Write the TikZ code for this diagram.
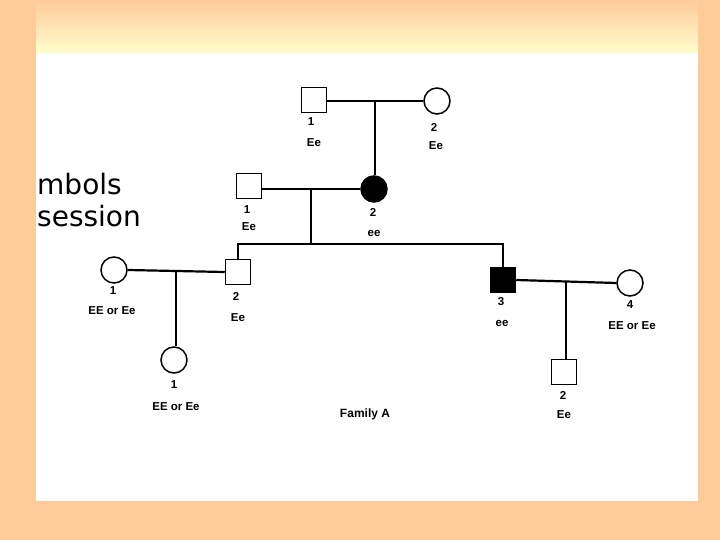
\documentclass[tikz,border=0pt]{standalone}
\usepackage{fontspec}
\setmainfont{Liberation Sans}
\newfontfamily\handfont{DejaVu Sans}
\definecolor{peach}{RGB}{255,204,153}
\definecolor{glow}{RGB}{255,253,204}
\begin{document}
\begin{tikzpicture}[x=1pt,y=-1pt,
        male/.style={draw,line width=1.5pt,rectangle,minimum size=25pt,inner sep=0pt},
        female/.style={draw,line width=1.5pt,circle,minimum size=26pt,inner sep=0pt},
        affected/.style={fill=black},
        gene/.style={font=\bfseries\fontsize{11.5}{13}\selectfont,inner sep=0pt},
        mate/.style={line width=2.2pt},
        kin/.style={line width=1.7pt}]
        % frame
        \fill[peach] (0,0) rectangle (720,540);
        \shade[top color=peach,bottom color=glow] (36,0) rectangle (698,53);
        \fill[white] (36,53) rectangle (698,501);
        \useasboundingbox (0,0) rectangle (720,540);
        % handwritten note, cut at the left
        \node[font=\handfont\fontsize{28}{30}\selectfont,anchor=base west,inner sep=0pt] (note1) at (37,195) {mbols};
        \node[font=\handfont\fontsize{28}{30}\selectfont,anchor=base west,inner sep=0pt] (note2) at (37,226) {session};
        % generation I
        \node[male] (gi1) at (314,100) {};
        \node[female] (gi2) at (437,101) {};
        % generation II
        \node[male] (gii1) at (249,186) {};
        \node[female,affected] (gii2) at (374,189) {};
        % generation III
        \node[female] (giii1) at (114,270) {};
        \node[male] (giii2) at (238,272) {};
        \node[male,affected] (giii3) at (503,280) {};
        \node[female] (giii4) at (630,283) {};
        % generation IV
        \node[female] (giv1) at (174,360) {};
        \node[male] (giv2) at (564,372) {};
        \coordinate (sib) at (311,244);
        % matings and descent
        \draw[mate] (gi1.east |- gi2) -- coordinate (mi) (gi2.west);
        \draw[kin] (mi) -- (mi |- gii2.north);
        \draw[mate] (gii1.east |- gii2) -- coordinate (mii) (gii2.west);
        \draw[kin] (mii) -- (mii |- sib);
        \draw[kin] (giii2.north) -- (giii2.north |- sib) -- (giii3.north |- sib) -- (giii3.north);
        \draw[mate] (giii1.east) -- coordinate (miii) (giii2.west);
        \draw[kin] (miii) -- (miii |- giv1.north);
        \draw[mate] (giii3.east) -- coordinate (miv) (giii4.west);
        \draw[kin] (miv) -- (miv |- giv2.north);
        % labels
        \node[gene] (n1) at (311,122) {1};
        \node[gene] (g1) at (314,143) {Ee};
        \node[gene] (n2) at (434,127) {2};
        \node[gene] (g2) at (436,146) {Ee};
        \node[gene] (n3) at (247,210) {1};
        \node[gene] (g3) at (249,227) {Ee};
        \node[gene] (n4) at (373,212) {2};
        \node[gene] (g4) at (374,233) {ee};
        \node[gene] (n5) at (113,291) {1};
        \node[gene] (g5) at (112,311) {EE or Ee};
        \node[gene] (n6) at (236,296) {2};
        \node[gene] (g6) at (238,318) {Ee};
        \node[gene] (n7) at (501,302) {3};
        \node[gene] (g7) at (502,323) {ee};
        \node[gene] (n8) at (630,305) {4};
        \node[gene] (g8) at (632,326) {EE or Ee};
        \node[gene] (n9) at (174,385) {1};
        \node[gene] (g9) at (176,407) {EE or Ee};
        \node[gene] (n10) at (563,395) {2};
        \node[gene] (g10) at (564,415) {Ee};
        \node[gene,font=\bfseries\fontsize{12}{14}\selectfont] (fam) at (365,414) {Family A};
\end{tikzpicture}
\end{document}
